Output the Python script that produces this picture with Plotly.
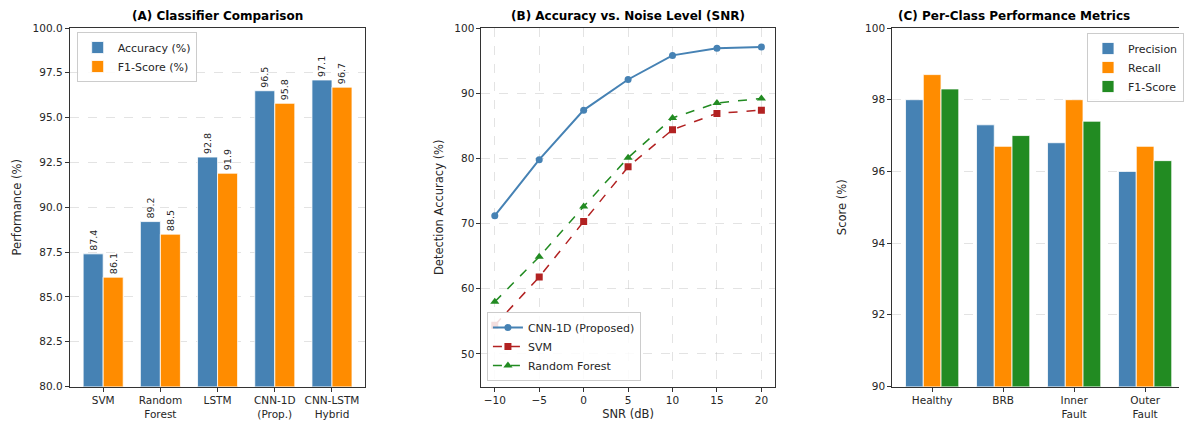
import plotly.graph_objects as go

W, H = 1184, 423

# ---- Data ----
clf_names = ["SVM", "Random<br>Forest", "LSTM", "CNN-1D<br>(Prop.)", "CNN-LSTM<br>Hybrid"]
clf_accuracy = [87.4, 89.2, 92.8, 96.5, 97.1]
clf_f1 = [86.1, 88.5, 91.9, 95.8, 96.7]

snr_db = [-10, -5, 0, 5, 10, 15, 20]
acc_cnn = [71.2, 79.8, 87.4, 92.1, 95.8, 96.9, 97.1]
acc_svm = [54.4, 61.8, 70.3, 78.7, 84.4, 86.9, 87.4]
acc_rf = [58.0, 64.9, 72.6, 80.1, 86.2, 88.5, 89.2]

classes = ["Healthy", "BRB", "Inner<br>Fault", "Outer<br>Fault"]
cls_precision = [98.0, 97.3, 96.8, 96.0]
cls_recall = [98.7, 96.7, 98.0, 96.7]
cls_f1 = [98.3, 97.0, 97.4, 96.3]

BLUE = "#4682B4"
ORANGE = "#FF8C00"
GREEN = "#228B22"
RED = "#B22222"
FONT = "DejaVu Sans"
TXT = "#262626"
GRID = "rgba(176,176,176,0.35)"

def px_x(p):
    return p / W

def px_y(p):
    return 1 - p / H

fig = go.Figure()

# ---- Panel A ----
xa = list(range(len(clf_names)))
fig.add_trace(go.Bar(x=xa, y=clf_accuracy, width=0.35, offset=-0.35, name="Accuracy (%)",
                     marker=dict(color=BLUE, line=dict(color="white", width=0.8)),
                     text=[f"{v:.1f}" for v in clf_accuracy], textposition="outside",
                     textangle=-90, constraintext="none", cliponaxis=False,
                     textfont=dict(size=9.5, color=TXT, family=FONT),
                     xaxis="x", yaxis="y", legend="legend"))
fig.add_trace(go.Bar(x=xa, y=clf_f1, width=0.35, offset=0, name="F1-Score (%)",
                     marker=dict(color=ORANGE, line=dict(color="white", width=0.8)),
                     text=[f"{v:.1f}" for v in clf_f1], textposition="outside",
                     textangle=-90, constraintext="none", cliponaxis=False,
                     textfont=dict(size=9.5, color=TXT, family=FONT),
                     xaxis="x", yaxis="y", legend="legend"))

# ---- Panel B ----
fig.add_trace(go.Scatter(x=snr_db, y=acc_cnn, mode="lines+markers", name="CNN-1D (Proposed)",
                         line=dict(color=BLUE, width=2), marker=dict(symbol="circle", size=7),
                         xaxis="x2", yaxis="y2", legend="legend2"))
fig.add_trace(go.Scatter(x=snr_db, y=acc_svm, mode="lines+markers", name="SVM",
                         line=dict(color=RED, width=1.5, dash="dash"), marker=dict(symbol="square", size=7),
                         xaxis="x2", yaxis="y2", legend="legend2"))
fig.add_trace(go.Scatter(x=snr_db, y=acc_rf, mode="lines+markers", name="Random Forest",
                         line=dict(color=GREEN, width=1.5, dash="dash"), marker=dict(symbol="triangle-up", size=8),
                         xaxis="x2", yaxis="y2", legend="legend2"))

# ---- Panel C ----
xc = list(range(len(classes)))
for vals, nm, col, off in [(cls_precision, "Precision", BLUE, -0.375),
                           (cls_recall, "Recall", ORANGE, -0.125),
                           (cls_f1, "F1-Score", GREEN, 0.125)]:
    fig.add_trace(go.Bar(x=xc, y=vals, width=0.25, offset=off, name=nm,
                         marker=dict(color=col, line=dict(color="white", width=0.8)),
                         xaxis="x3", yaxis="y3", legend="legend3"))

axis_common = dict(showline=True, linecolor="#333333", linewidth=1, ticks="outside", ticklen=4,
                   tickcolor="#333333", tickfont=dict(size=10.5, color=TXT, family=FONT), zeroline=False,
                   automargin=False)

ydomain = [px_y(386.5), px_y(28)]
title_font = dict(size=11.5, family=FONT, color=TXT)
legend_common = dict(bgcolor="rgba(255,255,255,0.85)", bordercolor="#cccccc", borderwidth=1,
                     font=dict(size=11, family=FONT, color=TXT), tracegroupgap=0, itemwidth=30)

fig.update_layout(
    template="none",
    width=W, height=H, margin=dict(l=0, r=0, t=0, b=0),
    paper_bgcolor="white", plot_bgcolor="white",
    barmode="overlay", font=dict(family=FONT, color=TXT),
    xaxis=dict(domain=[px_x(70), px_x(367)], range=[-0.585, 4.585], tickvals=xa, ticktext=clf_names,
               mirror=True, anchor="y", showgrid=False, **axis_common),
    yaxis=dict(domain=ydomain, range=[80, 100], dtick=2.5, tick0=0, tickformat=".1f", mirror=True, anchor="x",
               showgrid=True, gridcolor=GRID, griddash="dash", gridwidth=0.8,
               title=dict(text="Performance (%)", font=title_font, standoff=8),
               **axis_common),
    xaxis2=dict(domain=[px_x(483.5), px_x(778)], range=[-11.5, 21.5], dtick=5, tick0=0, mirror=True, anchor="y2",
                showgrid=True, gridcolor=GRID, griddash="dash", gridwidth=0.8,
                title=dict(text="SNR (dB)", font=title_font, standoff=4),
                **axis_common),
    yaxis2=dict(domain=ydomain, range=[45, 100], dtick=10, tick0=0, mirror=True, anchor="x2",
                showgrid=True, gridcolor=GRID, griddash="dash", gridwidth=0.8,
                title=dict(text="Detection Accuracy (%)", font=title_font, standoff=8),
                **axis_common),
    xaxis3=dict(domain=[px_x(896), 1.0], range=[-0.5625, 3.477], tickvals=xc, ticktext=classes,
                mirror=True, anchor="y3", showgrid=False, **axis_common),
    yaxis3=dict(domain=ydomain, range=[90, 100], dtick=2, tick0=0, anchor="x3",
                showgrid=True, gridcolor=GRID, griddash="dash", gridwidth=0.8,
                title=dict(text="Score (%)", font=title_font, standoff=16),
                **axis_common),
    legend=dict(x=px_x(77), y=px_y(32), xanchor="left", yanchor="top", **legend_common),
    legend2=dict(x=px_x(489), y=px_y(381), xanchor="left", yanchor="bottom", **legend_common),
    legend3=dict(x=px_x(1092), y=px_y(33), xanchor="left", yanchor="top", **legend_common),
    showlegend=True,
)

titles = [("(A) Classifier Comparison", (70 + 367) / 2),
          ("(B) Accuracy vs. Noise Level (SNR)", (483.5 + 778) / 2),
          ("(C) Per-Class Performance Metrics", 1018)]
for t, cx in titles:
    fig.add_annotation(text=f"<b>{t}</b>", x=px_x(cx), y=px_y(16), xref="paper", yref="paper",
                       xanchor="center", yanchor="middle", showarrow=False,
                       font=dict(size=12, family=FONT, color="black"))

fig.write_html("out.html", config={"displayModeBar": False},
               post_script="document.body.style.margin='0';document.body.style.overflow='hidden';")
